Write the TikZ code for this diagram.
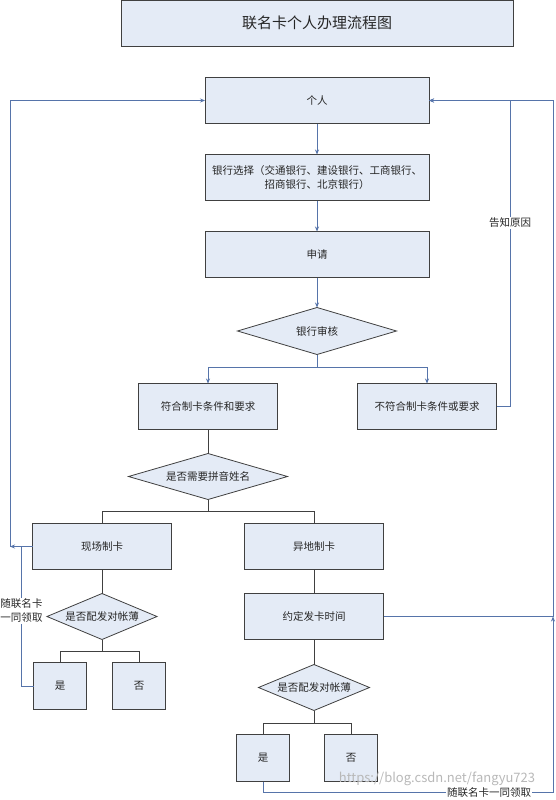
\documentclass[tikz,border=0pt]{standalone}
\usepackage{fontspec}
\setmainfont{Noto Sans CJK SC}
\usepackage{tikz}
\usetikzlibrary{arrows.meta, positioning, shapes.geometric}
\definecolor{boxfill}{RGB}{228,235,246}
\definecolor{lineblue}{RGB}{86,116,170}

\begin{document}
\begin{tikzpicture}[x=1pt, y=-1pt, >={Stealth[length=5pt, width=4pt]},
  every node/.style={font=\fontsize{10.5}{14}\selectfont, text=black!85},
  box/.style={draw=black!75, fill=boxfill, line width=0.8pt, outer sep=0pt, minimum height=46pt, inner sep=2pt, align=center},
  wide/.style={box, minimum width=224pt},
  mid/.style={box, minimum width=139pt},
  small/.style={box, minimum width=53pt, minimum height=47pt},
  decide/.style={diamond, aspect=2.4, draw=black!75, fill=boxfill, line width=0.8pt, outer sep=0pt, inner sep=0pt, minimum height=46pt},
  flow/.style={->, draw=lineblue, line width=0.7pt},
  tree/.style={draw=black!75, line width=0.8pt},
  lbl/.style={fill=white, inner sep=1pt, align=center}]
\useasboundingbox (0,0) rectangle (555,800);

% Nodes
\node[box, minimum width=392pt, font=\fontsize{15}{18}\selectfont] (title) at (317,23) {联名卡个人办理流程图};
\node[wide] (person) at (317,100.5) {个人};
\node[wide, below=31pt of person] (bank) {银行选择（交通银行、建设银行、工商银行、\\招商银行、北京银行）};
\node[wide, below=31pt of bank] (apply) {申请};
\node[decide, aspect=3.4, minimum width=159pt, minimum height=47pt, below=30pt of apply] (check) {银行审核};
\node[mid, below=29pt of check, xshift=-109pt] (ok) {符合制卡条件和要求};
\node[mid, right=80pt of ok] (fail) {不符合制卡条件或要求};
\node[decide, aspect=3.4, minimum width=159pt, below=24pt of ok] (pinyin) {是否需要拼音姓名};
\node[mid, below=24pt of pinyin, xshift=-106pt] (onsite) {现场制卡};
\node[mid, right=73pt of onsite] (remote) {异地制卡};
\node[mid, below=24pt of remote] (agree) {约定发卡时间};
\node[decide, minimum width=110pt, below=24pt of onsite] (bookL) {是否配发对帐薄};
\node[small, below=23pt of bookL, xshift=-42pt] (yesL) {是};
\node[small, right=26pt of yesL] (noL) {否};
\node[decide, minimum width=111pt, below=25pt of agree] (bookR) {是否配发对帐薄};
\node[small, below=24pt of bookR, xshift=-51pt] (yesR) {是};
\node[small, right=35pt of yesR] (noR) {否};

% Loop corners
\coordinate (lloop) at ([xshift=-195pt]person.west);
\coordinate (rloop) at ([xshift=81pt]person.east);
\coordinate (rloop2) at ([xshift=124pt]person.east);
\coordinate (ljoin) at ([xshift=-11pt]onsite.west);
\coordinate (rbot) at ([yshift=-11pt]yesR.south -| rloop2);

% Edges
\draw[flow] (person) -- (bank);
\draw[flow] (bank) -- (apply);
\draw[flow] (apply) -- (check);
\draw[flow] (check.south) -- ++(0,13) -| (ok.north);
\draw[flow] (check.south) -- ++(0,13) -| (fail.north);
\draw[flow] (fail.east) -| node[lbl, pos=0.8] {告知原因} (rloop) -- (person.east);
\draw[flow] (agree.east) -| (rloop2) -- (person.east);
\draw[flow] (yesR.south) |- node[lbl, pos=0.89] {随联名卡一同领取} (rbot) -- (agree.east -| rloop2);
\draw[flow] (onsite.west) -| (lloop) -- (person.west);
\draw[flow] (yesL.west) -| node[lbl, pos=0.77] {随联名卡\\一同领取} (ljoin) -- (onsite.west -| lloop);

% Tree
\draw[tree] (ok) -- (pinyin);
\draw[tree] (pinyin.south) -- ++(0,12) -| (onsite.north);
\draw[tree] (pinyin.south) -- ++(0,12) -| (remote.north);
\draw[tree] (onsite) -- (bookL);
\draw[tree] (bookL.south) -- ++(0,12) -| (yesL.north);
\draw[tree] (bookL.south) -- ++(0,12) -| (noL.north);
\draw[tree] (remote) -- (agree);
\draw[tree] (agree) -- (bookR);
\draw[tree] (bookR.south) -- ++(0,13) -| (yesR.north);
\draw[tree] (bookR.south) -- ++(0,13) -| (noR.north);

% Watermark
\node[text=black!28, font=\fontsize{13}{15}\selectfont] (mark) at (437,779) {https://blog.csdn.net/fangyu723};
\end{tikzpicture}
\end{document}
